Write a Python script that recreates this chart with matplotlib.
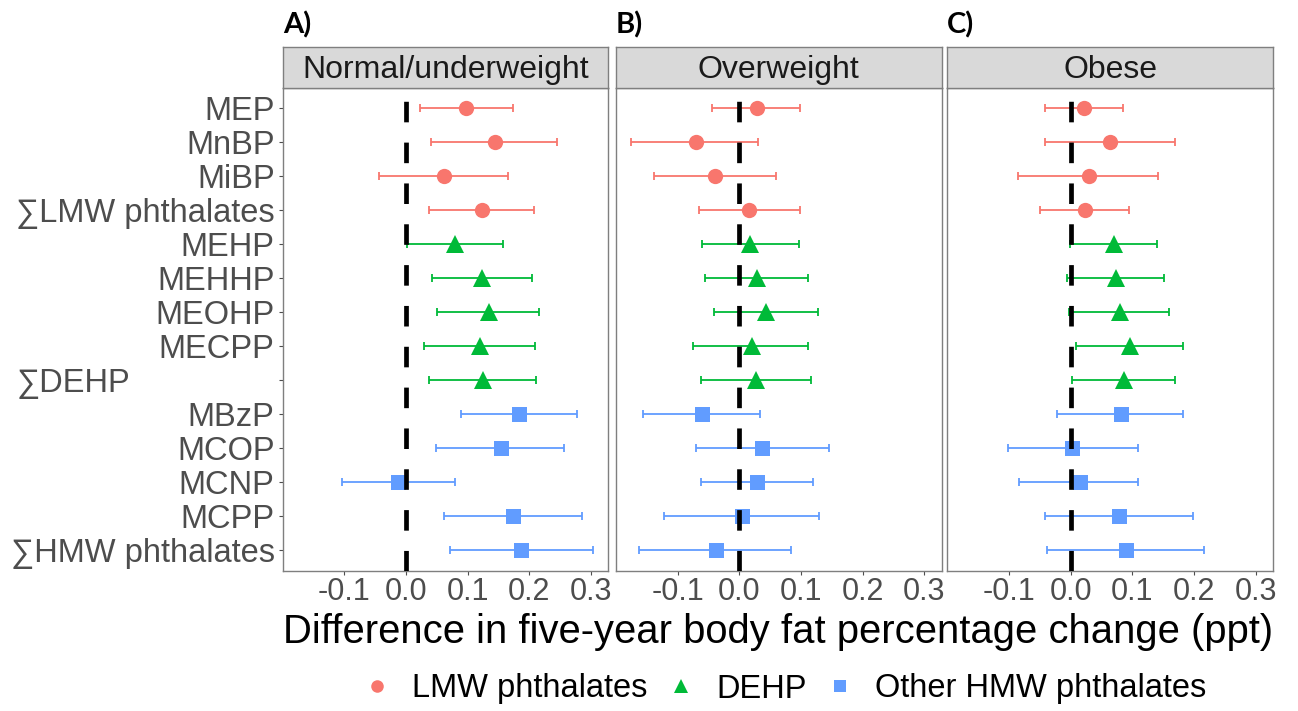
import matplotlib
matplotlib.use("Agg")
import matplotlib.pyplot as plt
import matplotlib.transforms as mtransforms
from matplotlib.lines import Line2D

plt.rcParams["font.family"] = ["Liberation Sans", "DejaVu Sans"]
plt.rcParams["lines.scale_dashes"] = False
plt.rcParams["axes.unicode_minus"] = False

# ---- data -------------------------------------------------------------
exposures = ["MEP", "MnBP", "MiBP", "∑LMW phthalates",
             "MEHP", "MEHHP", "MEOHP", "MECPP", "∑DEHP",
             "MBzP", "MCOP", "MCNP", "MCPP", "∑HMW phthalates"]
groups = (["LMW phthalates"] * 4 + ["DEHP"] * 5 + ["Other HMW phthalates"] * 5)
group_order = ["LMW phthalates", "DEHP", "Other HMW phthalates"]

panels = ["Normal/underweight", "Overweight", "Obese"]
panel_tags = ["A)", "B)", "C)"]

est_normal = [0.098, 0.144, 0.062, 0.123, 0.080, 0.123, 0.135, 0.120, 0.125,
              0.184, 0.154, -0.013, 0.174, 0.187]
lo_normal = [0.023, 0.041, -0.043, 0.037, 0.002, 0.042, 0.051, 0.030, 0.038,
             0.089, 0.049, -0.104, 0.062, 0.071]
hi_normal = [0.173, 0.245, 0.165, 0.207, 0.158, 0.204, 0.215, 0.209, 0.211,
             0.277, 0.256, 0.080, 0.285, 0.304]

est_over = [0.028, -0.071, -0.040, 0.016, 0.018, 0.029, 0.043, 0.020, 0.027,
            -0.061, 0.037, 0.029, 0.005, -0.038]
lo_over = [-0.044, -0.176, -0.139, -0.066, -0.061, -0.056, -0.041, -0.075, -0.062,
           -0.157, -0.071, -0.062, -0.122, -0.162]
hi_over = [0.099, 0.031, 0.059, 0.099, 0.097, 0.112, 0.127, 0.112, 0.116,
           0.033, 0.145, 0.120, 0.129, 0.084]

est_obese = [0.022, 0.064, 0.030, 0.023, 0.070, 0.073, 0.080, 0.097, 0.086,
             0.081, 0.003, 0.015, 0.078, 0.090]
lo_obese = [-0.042, -0.042, -0.086, -0.050, -0.001, -0.006, -0.003, 0.008, 0.002,
            -0.022, -0.102, -0.084, -0.042, -0.038]
hi_obese = [0.085, 0.169, 0.142, 0.094, 0.140, 0.152, 0.160, 0.183, 0.169,
            0.183, 0.109, 0.109, 0.198, 0.216]

x_ticks = [-0.1, 0.0, 0.1, 0.2, 0.3]
x_label = "Difference in five-year body fat percentage change (ppt)"

# ---- styling ----------------------------------------------------------
colors = {"LMW phthalates": "#F8766D", "DEHP": "#00BA38",
          "Other HMW phthalates": "#619CFF"}
markers = {"LMW phthalates": "o", "DEHP": "^", "Other HMW phthalates": "s"}
msizes = {"LMW phthalates": 11.0, "DEHP": 12.5, "Other HMW phthalates": 10.8}
border = "#7f7f7f"
axis_text = "#4d4d4d"

panel_data = [(est_normal, lo_normal, hi_normal),
              (est_over, lo_over, hi_over),
              (est_obese, lo_obese, hi_obese)]

all_lo = min(min(d[1]) for d in panel_data)
all_hi = max(max(d[2]) for d in panel_data)
span = all_hi - all_lo
xlim = (all_lo - 0.05 * span, all_hi + 0.05 * span)
n = len(exposures)
ylim = (n - 1 + 0.6, -0.6)

W, H = 1298, 711
fig = plt.figure(figsize=(W / 100, H / 100), dpi=100)

lefts_px = [282.7, 616.0, 947.3]
panel_w_px = 325.5
top_px, bottom_px = 88.0, 570.7
strip_top_px = 47.0

axes = []
for i, (name, tag, (est, lo, hi)) in enumerate(zip(panels, panel_tags, panel_data)):
    ax = fig.add_axes([lefts_px[i] / W, 1 - bottom_px / H,
                       panel_w_px / W, (bottom_px - top_px) / H])
    axes.append(ax)
    for j in range(n):
        g = groups[j]
        ax.errorbar([est[j]], [j], xerr=[[est[j] - lo[j]], [hi[j] - est[j]]],
                    fmt="none", ecolor=colors[g], elinewidth=1.3,
                    capsize=2.8, capthick=1.3, zorder=2)
        ax.plot([est[j]], [j], linestyle="none", marker=markers[g],
                markersize=msizes[g], color=colors[g], markeredgewidth=0,
                zorder=3)
    # reference line at zero, drawn bottom-up so dashes start at the bottom
    ref, = ax.plot([0, 0], [ylim[0], ylim[1]], color="black", linewidth=3.4,
                   zorder=4, solid_capstyle="butt")
    ref.set_dashes([14.8, 14.6])
    ref.set_dash_capstyle("butt")

    ax.set_xlim(xlim)
    ax.set_ylim(ylim)
    ax.set_xticks(x_ticks)
    ax.set_xticklabels([f"{v:.1f}" for v in x_ticks])
    ax.tick_params(axis="x", length=2.8, width=0.8, color=axis_text,
                   labelsize=22, labelcolor=axis_text, pad=2)
    for sp in ax.spines.values():
        sp.set_color(border)
        sp.set_linewidth(1.0)
    if i == 0:
        ax.set_yticks(range(n))
        ax.set_yticklabels([e if e != "∑DEHP" else "" for e in exposures])
        ax.tick_params(axis="y", length=2.8, width=0.8, color=axis_text,
                       labelsize=23.5, labelcolor=axis_text, pad=3)
        trans = mtransforms.blended_transform_factory(fig.transFigure, ax.transData)
        ax.text(17 / W, exposures.index("∑DEHP") + 0.08, "∑DEHP",
                transform=trans, ha="left", va="center", fontsize=23.5,
                color=axis_text)
    else:
        ax.set_yticks([])

    # facet strip
    sax = fig.add_axes([lefts_px[i] / W, 1 - top_px / H,
                        panel_w_px / W, (top_px - strip_top_px) / H])
    sax.set_facecolor("#D9D9D9")
    sax.set_xticks([])
    sax.set_yticks([])
    for sp in sax.spines.values():
        sp.set_color(border)
        sp.set_linewidth(1.0)
    sax.text(0.5, 0.45, name, ha="center", va="center", fontsize=23,
             color="#1a1a1a", transform=sax.transAxes)

    fig.text(lefts_px[i] / W, 1 - 33 / H, tag, ha="left",
             va="baseline", fontsize=21, fontweight="bold",
             family=["Lato", "DejaVu Sans"])

fig.text((lefts_px[0] + lefts_px[2] + panel_w_px) / 2 / W, 1 - 632 / H,
         x_label, ha="center", va="center", fontsize=28.8, color="black")

handles = [Line2D([], [], linestyle="none", marker=markers[g], color=colors[g],
                  markersize=msizes[g] * 0.82, markeredgewidth=0)
           for g in group_order]
fig.legend(handles, group_order, loc="center", ncol=3, frameon=False,
           bbox_to_anchor=(786 / W, 1 - 689 / H), fontsize=23.5,
           handlelength=0.7, handletextpad=0.72, columnspacing=0.69,
           borderaxespad=0, borderpad=0)

fig.savefig("out.png", dpi=100, facecolor="white")
